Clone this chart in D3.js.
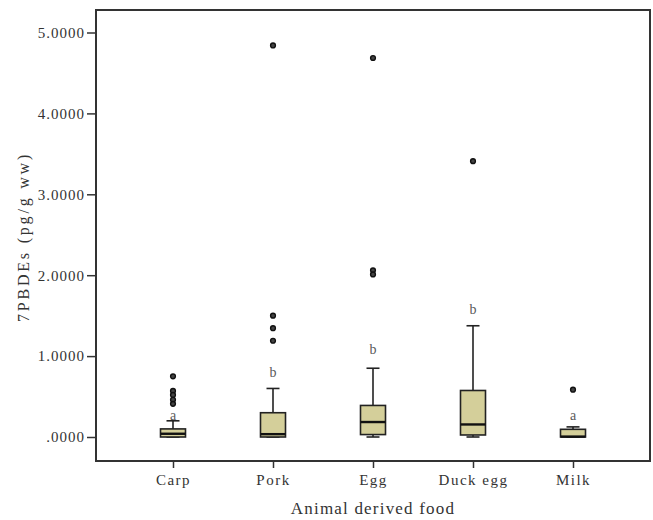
<!DOCTYPE html>
<html>
<head>
<meta charset="utf-8">
<script src="https://cdn.jsdelivr.net/npm/d3@7"></script>
<style>
  body { margin: 0; background: #fff; }
  text { font-family: "Liberation Serif", "DejaVu Serif", serif; }
</style>
</head>
<body>
<svg id="chart"></svg>
<script>
// Box plot values (pg/g ww)
const categories = ["Carp", "Pork", "Egg", "Duck egg", "Milk"];
const whiskerLow = [0, 0, 0, 0, 0];
const q1 = [0.0, 0.0, 0.03, 0.025, 0.0];
const median = [0.04, 0.035, 0.185, 0.155, 0.005];
const q3 = [0.10, 0.30, 0.39, 0.575, 0.095];
const whiskerHigh = [0.20, 0.60, 0.85, 1.375, 0.125];
const outliers = [
  [0.75, 0.57, 0.52, 0.46, 0.41],
  [4.84, 1.50, 1.345, 1.19],
  [4.685, 2.06, 2.01],
  [3.41],
  [0.585]
];
const groupLetters = ["a", "b", "b", "b", "a"];
const letterAt = [0.27, 0.80, 1.09, 1.58, 0.27];
const yTicks = [0, 1, 2, 3, 4, 5];

const W = 653, H = 520;
const frame = { left: 96, top: 10, right: 650, bottom: 461 };

const svg = d3.select('#chart')
    .attr('width', W)
    .attr('height', H);

// scales
const x = d3.scalePoint()
    .domain(categories)
    .range([frame.left, frame.right])
    .padding(0.77);

const y = d3.scaleLinear()
    .domain([0, 5])
    .range([437, 32.5]);

const boxW = 25, capW = 13;

// y axis
const yAxis = svg.append('g')
    .attr('transform', `translate(${frame.left},0)`)
    .call(d3.axisLeft(y).tickValues(yTicks).tickSize(9).tickPadding(2)
      .tickFormat(d => d3.format('.4f')(d).replace(/^0/, '')));
yAxis.select('.domain').remove();
yAxis.selectAll('line').attr('stroke', '#333').attr('stroke-width', 1.5);
yAxis.selectAll('text')
    .style('font-size', '15px')
    .style('letter-spacing', '1px')
    .style('fill', '#333');

// x axis
const xAxis = svg.append('g')
    .attr('transform', `translate(0,${frame.bottom})`)
    .call(d3.axisBottom(x).tickSize(7).tickPadding(6));
xAxis.select('.domain').remove();
xAxis.selectAll('line').attr('stroke', '#333').attr('stroke-width', 1.5);
xAxis.selectAll('text')
    .style('font-size', '15px')
    .style('letter-spacing', '1.5px')
    .style('fill', '#333');

// frame
svg.append('rect')
    .attr('x', frame.left)
    .attr('y', frame.top)
    .attr('width', frame.right - frame.left)
    .attr('height', frame.bottom - frame.top)
    .attr('fill', 'none')
    .attr('stroke', '#333')
    .attr('stroke-width', 2);

// boxes
const g = svg.selectAll('.box')
  .data(categories)
  .enter().append('g')
    .attr('class', 'box')
    .attr('transform', d => `translate(${x(d)},0)`);

// whiskers
g.append('line')
    .attr('x1', 0).attr('x2', 0)
    .attr('y1', (d, i) => y(whiskerHigh[i]))
    .attr('y2', (d, i) => y(q3[i]))
    .attr('stroke', '#222').attr('stroke-width', 1.6);
g.append('line')
    .attr('x1', 0).attr('x2', 0)
    .attr('y1', (d, i) => y(q1[i]))
    .attr('y2', (d, i) => y(whiskerLow[i]))
    .attr('stroke', '#222').attr('stroke-width', 1.6);
g.append('line')
    .attr('x1', -capW / 2).attr('x2', capW / 2)
    .attr('y1', (d, i) => y(whiskerHigh[i]))
    .attr('y2', (d, i) => y(whiskerHigh[i]))
    .attr('stroke', '#222').attr('stroke-width', 1.6);
g.append('line')
    .attr('x1', -capW / 2).attr('x2', capW / 2)
    .attr('y1', (d, i) => y(whiskerLow[i]))
    .attr('y2', (d, i) => y(whiskerLow[i]))
    .attr('stroke', '#222').attr('stroke-width', 1.6);

g.append('rect')
    .attr('x', -boxW / 2)
    .attr('width', boxW)
    .attr('y', (d, i) => y(q3[i]))
    .attr('height', (d, i) => Math.max(1, y(q1[i]) - y(q3[i])))
    .attr('fill', '#d4cf9a')
    .attr('stroke', '#222')
    .attr('stroke-width', 1.6);

g.append('line')
    .attr('x1', -boxW / 2).attr('x2', boxW / 2)
    .attr('y1', (d, i) => y(median[i]))
    .attr('y2', (d, i) => y(median[i]))
    .attr('stroke', '#111').attr('stroke-width', 2.4);

// outliers
g.selectAll('.out')
  .data((d, i) => outliers[i])
  .enter().append('circle')
    .attr('class', 'out')
    .attr('cx', 0)
    .attr('cy', d => y(d))
    .attr('r', 2.4)
    .attr('fill', '#444')
    .attr('stroke', '#111')
    .attr('stroke-width', 1.4);

// group letters
g.append('text')
    .attr('x', 0)
    .attr('y', (d, i) => y(letterAt[i]))
    .attr('dy', '0.35em')
    .attr('text-anchor', 'middle')
    .style('font-size', '14px')
    .style('fill', '#5a5a5a')
    .text((d, i) => groupLetters[i]);

// axis titles
svg.append('text')
    .attr('x', (frame.left + frame.right) / 2)
    .attr('y', 508)
    .attr('dy', '0.35em')
    .attr('text-anchor', 'middle')
    .style('font-size', '17px')
    .style('letter-spacing', '1.2px')
    .style('fill', '#333')
    .text('Animal derived food');

svg.append('text')
    .attr('transform', 'translate(23,237) rotate(-90)')
    .attr('dy', '0.35em')
    .attr('text-anchor', 'middle')
    .style('font-size', '16px')
    .style('letter-spacing', '2.8px')
    .style('fill', '#333')
    .text('7PBDEs (pg/g ww)');
</script>
</body>
</html>
